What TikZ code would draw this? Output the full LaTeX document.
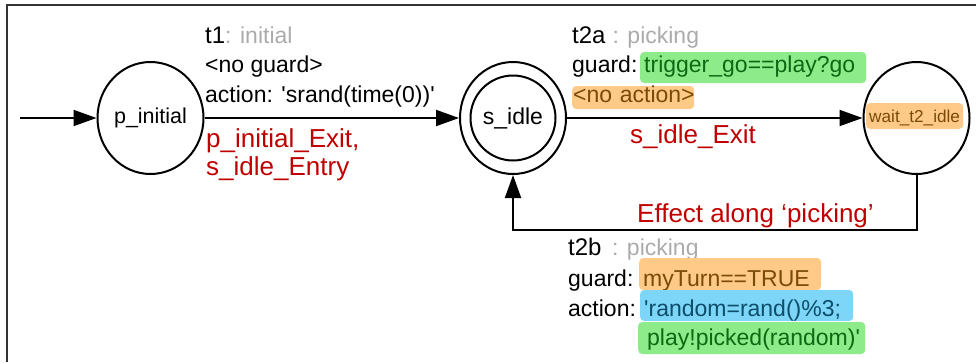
\documentclass[tikz,border=0pt]{standalone}
\usepackage{fontspec}
\setmainfont{Liberation Sans}
\usetikzlibrary{arrows.meta,shapes.geometric}

\definecolor{framegray}{HTML}{333333}
\definecolor{lblgray}{HTML}{ABABAB}
\definecolor{exitred}{HTML}{C00000}
\definecolor{hlgreen}{HTML}{8EEB8A}
\definecolor{dkgreen}{HTML}{0B6A12}
\definecolor{hlorange}{HTML}{FFCA88}
\definecolor{dkorange}{HTML}{7A4A08}
\definecolor{hlblue}{HTML}{7DD5F7}
\definecolor{dkblue}{HTML}{0D4E6A}

\begin{document}
\begin{tikzpicture}[x=1pt,y=-1pt,
  every node/.style={inner sep=0pt},
  statenode/.style={draw, line width=2pt, ellipse, minimum width=106pt, minimum height=112pt},
  arr/.style={line width=2pt, -{Triangle[length=23pt,width=16pt]}},
  txt/.style={anchor=base west, font=\fontsize{23}{28}\selectfont},
  tlabel/.style={anchor=base west, font=\fontsize{24}{28}\selectfont},
  redtxt/.style={anchor=base west, text=exitred, font=\fontsize{26}{30}\selectfont},
  hl/.style={anchor=base west, rounded corners=4pt, inner xsep=4pt, inner ysep=0pt,
             align=left, font=\fontsize{23}{28}\selectfont},
]
\useasboundingbox (0,0) rectangle (976,362);

% frame
\draw[line width=2.5pt, framegray] (7,362) -- (7,5) -- (976,5);

% states
\node[statenode, font=\fontsize{21.5}{26}\selectfont] (pinit) at (150.5,118) {p\_initial};
\node[statenode] (sidle) at (513,118) {};
\node[draw, line width=2pt, ellipse, minimum width=80pt, minimum height=85pt,
      font=\fontsize{23}{28}\selectfont] (sidlein) at (sidle.center) {s\_idle};
\node[statenode] (wait) at (916.5,118) {};
\node[hl, fill=hlorange, text=dkorange, font=\fontsize{17.2}{20}\selectfont,
      inner xsep=3pt, text width=91pt, text height=19pt, text depth=7pt]
      (waitlbl) at (866,122) {\mbox{wait\_t2\_idle}};

% transitions
\coordinate (start) at (20,118);
\coordinate (backR) at (916.5,230);
\coordinate (backL) at (513,230);
\draw[arr] (start) -- (pinit);
\draw[arr] (pinit) -- (sidle);
\draw[arr] (sidle) -- (wait);
\draw[arr] (wait.south) -- (backR) -- (backL) -- (sidle.south);

% t1
\node[tlabel] (t1lbl) at (205,43) {t1\textcolor{lblgray}{\fontsize{23}{28}\selectfont: initial}};
\node[txt] (t1guard) at (205,72) {<no guard>};
\node[txt] (t1act) at (205,102) {action: \textquotesingle srand(time(0))\textquotesingle};
\node[redtxt] (t1exit) at (206,147) {p\_initial\_Exit,};
\node[redtxt] (t1entry) at (206,175) {s\_idle\_Entry};

% t2a
\node[tlabel] (t2albl) at (572,43) {t2a\hspace{7pt}\textcolor{lblgray}{\fontsize{23}{28}\selectfont: picking}};
\node[txt] (t2aguard) at (572,72) {guard:};
\node[hl, fill=hlgreen, text=dkgreen, text width=218pt, text height=20pt, text depth=11pt]
      (t2aexpr) at (640,72) {\mbox{trigger\_go==play?go}};
\node[hl, fill=hlorange, text=dkorange, inner xsep=1pt, text width=120pt,
      text height=16pt, text depth=7pt] (t2anoact) at (572,102) {\mbox{<no action>}};
\node[redtxt] (t2aexit) at (630,143) {s\_idle\_Exit};

% t2b
\node[redtxt] (effect) at (637,222) {Effect along ‘picking’};
\node[tlabel] (t2blbl) at (568,255) {t2b\hspace{10.5pt}\textcolor{lblgray}{\fontsize{23}{28}\selectfont: picking}};
\node[txt] (t2bguard) at (568,286) {guard:};
\node[hl, fill=hlorange, text=dkorange, text width=174pt, text height=28pt, text depth=4pt]
      (t2bexpr) at (639,286) {\mbox{myTurn==TRUE}};
\node[txt] (t2bact) at (568,316) {action:};
\node[hl, fill=hlblue, text=dkblue, text width=205pt, text height=26pt, text depth=5pt]
      (t2bact1) at (640,316) {\mbox{\textquotesingle random=rand()\%3;}};
\node[hl, fill=hlgreen, text=dkgreen, text width=219pt, text height=23pt, text depth=9pt]
      (t2bact2) at (638,345) {\mbox{\hspace*{5pt}play!picked(random)\textquotesingle}};
\end{tikzpicture}
\end{document}
